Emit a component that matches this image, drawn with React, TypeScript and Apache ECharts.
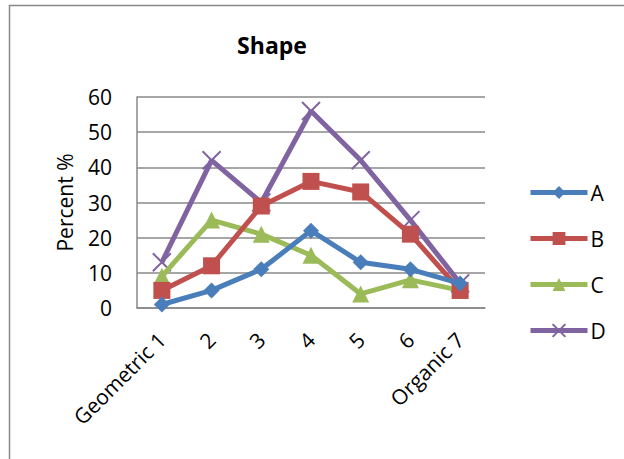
import React, { useEffect, useRef } from "react";
import * as echarts from "echarts";

const categories = ["Geometric 1", "2", "3", "4", "5", "6", "Organic 7"];
const seriesA = [1, 5, 11, 22, 13, 11, 7];
const seriesB = [5, 12, 29, 36, 33, 21, 5];
const seriesC = [9, 25, 21, 15, 4, 8, 5];
const seriesD = [13, 42, 30, 56, 42, 25, 7];
const seriesNames = ["A", "B", "C", "D"];
const colors = ["#4A7EBB", "#C0504D", "#9BBB59", "#8064A2"];

const FONT = "'Open Sans', 'Noto Sans', sans-serif";

export default function App() {
  const ref = useRef<HTMLDivElement>(null);
  useEffect(() => {
    if (!ref.current) return;
    const chart = echarts.init(ref.current, null, { renderer: "svg" });
    const data = [seriesA, seriesB, seriesC, seriesD];
    const symbols = ["diamond", "rect", "triangle", "path://M0,0L10,10M10,0L0,10"];
    const sizes = [16, 17, 17, 18];
    chart.setOption({
      animation: false,
      backgroundColor: "#ffffff",
      textStyle: { fontFamily: FONT },
      title: {
        text: "Shape",
        left: 267,
        textAlign: "center",
        top: 28,
        textStyle: { fontFamily: FONT, fontSize: 23, fontWeight: "bold", color: "#000" },
      },
      graphic: [
        {
          type: "polyline",
          shape: { points: [[9.5, 459], [9.5, 5.5], [624, 5.5]] },
          style: { stroke: "#888", lineWidth: 1.5, fill: "none" },
        },
      ],
      legend: {
        orient: "vertical",
        left: 523,
        top: 177,
        itemWidth: 57,
        itemHeight: 16,
        itemGap: 25,
        data: seriesNames,
        lineStyle: { width: 5 },
        textStyle: { fontFamily: FONT, fontSize: 21, color: "#000", padding: [0, 0, 0, -2] },
      },
      grid: { left: 137, right: 139, top: 97, bottom: 151, containLabel: false },
      xAxis: {
        type: "category",
        data: categories,
        boundaryGap: true,
        axisLine: { show: true, lineStyle: { color: "#888", width: 1.5 } },
        axisTick: { show: false },
        axisLabel: {
          rotate: 45,
          interval: 0,
          margin: 28,
          fontFamily: FONT,
          fontSize: 21,
          color: "#000",
        },
      },
      yAxis: {
        type: "value",
        min: 0,
        max: 60,
        interval: 10,
        name: "Percent %",
        nameLocation: "middle",
        nameGap: 62,
        nameTextStyle: { fontFamily: FONT, fontSize: 21, color: "#000" },
        axisLine: { show: true, lineStyle: { color: "#888", width: 1.5 } },
        axisTick: { show: false },
        splitLine: { show: true, lineStyle: { color: "#888", width: 1.5 } },
        axisLabel: { margin: 25, fontFamily: FONT, fontSize: 21, color: "#000" },
      },
      series: seriesNames.map((name, i) => ({
        name,
        type: "line",
        data: data[i],
        symbol: symbols[i],
        symbolSize: sizes[i],
        showAllSymbol: true,
        lineStyle: { color: colors[i], width: 5 },
        itemStyle:
          i === 3
            ? { color: colors[i], borderColor: colors[i], borderWidth: 2 }
            : { color: colors[i] },
        z: 10 - i,
      })),
    });
    return () => chart.dispose();
  }, []);
  return (
    <div
      ref={ref}
      style={{ position: "fixed", left: 0, top: 0, width: 624, height: 459 }}
    />
  );
}
